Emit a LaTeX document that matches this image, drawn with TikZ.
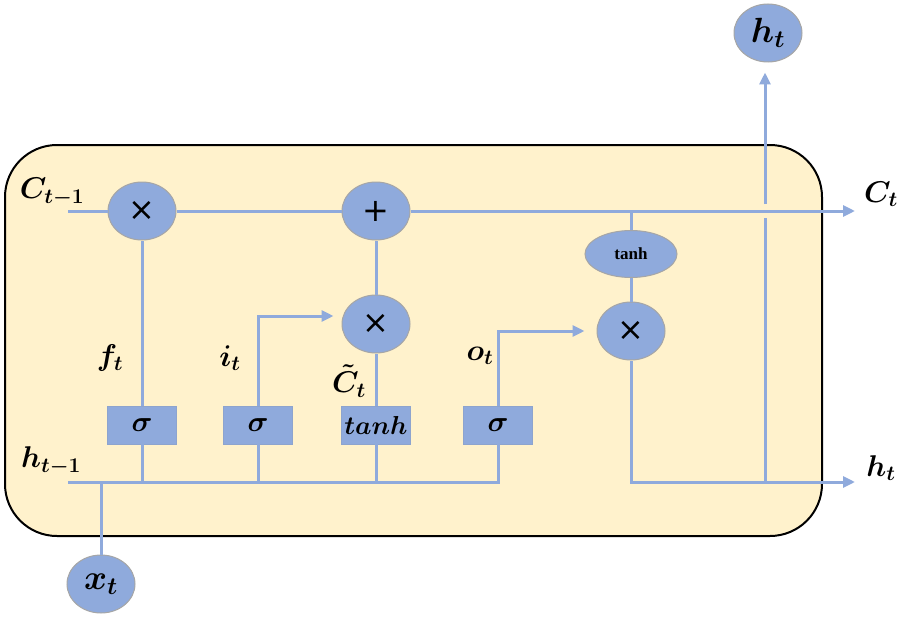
\documentclass[tikz,border=0pt]{standalone}
\usepackage{fontspec}
\usepackage{fix-cm}
\usetikzlibrary{shapes.geometric,arrows.meta}
\newfontfamily\opfont{DejaVu Sans}
\newfontfamily\tanhfont{Liberation Serif}
\definecolor{cellbg}{HTML}{FFF2CC}
\definecolor{nodeblue}{HTML}{8FAADC}
\definecolor{linblue}{HTML}{8FAADC}
\definecolor{rimgray}{HTML}{A6A6A6}
\begin{document}
\begin{tikzpicture}[x=1pt,y=-1pt,
  wire/.style={draw=linblue,line width=3pt},
  arr/.style={wire,-{Triangle[length=12pt,width=11pt]}},
  opnode/.style={ellipse,fill=nodeblue,draw=rimgray,line width=1pt,minimum width=68pt,minimum height=58pt,inner sep=0pt,font=\opfont\fontsize{32}{34}\selectfont},
  gate/.style={rectangle,fill=nodeblue,draw=nodeblue!85!gray,line width=0.8pt,minimum width=69pt,minimum height=38pt,inner sep=0pt,font=\fontsize{29}{31}\selectfont\boldmath},
  lbl/.style={inner sep=0pt,font=\fontsize{30}{32}\selectfont\boldmath}]
\useasboundingbox (0,0) rectangle (900,618);
% cell
\draw[fill=cellbg,draw=black,line width=2pt,rounded corners=52pt] (5,145) rectangle (822,536);

% coordinates
\coordinate (cin) at (68,211);
\coordinate (cout) at (855,211);
\coordinate (hin) at (68,482);
\coordinate (hout) at (855,482);
\coordinate (cjoint) at (631,211);
\coordinate (hjoint) at (765,482);
\coordinate (gaplo) at (765,218);
\coordinate (gaphi) at (765,204);

% nodes
\node[opnode] (mul1) at (142,211) {×};
\node[opnode] (plus) at (376,211) {+};
\node[opnode] (mul2) at (376,324) {×};
\node[opnode] (mul3) at (631,331) {×};
\node[opnode,minimum width=92pt,minimum height=47pt,font=\tanhfont\bfseries\fontsize{17}{19}\selectfont] (tanhe) at (631,254) {tanh};
\node[opnode,font=\fontsize{35}{37}\selectfont\boldmath] (ht) at (768,33) {$h_t$};
\node[opnode,font=\fontsize{35}{37}\selectfont\boldmath] (xt) at (101,584) {$x_t$};

\node[gate] (s1) at (142,425) {$\sigma$};
\node[gate] (s2) at (258,425) {$\sigma$};
\node[gate,font=\fontsize{26}{29}\selectfont\boldmath] (tb) at (376,425) {$tanh$};
\node[gate] (s4) at (498,425) {$\sigma$};

% wires
\draw[wire] (cin) -- (mul1) -- (plus);
\draw[arr] (plus) -- (cout);
\draw[wire] (s1) -- (mul1);
\draw[wire] (tb) -- (mul2) -- (plus);
\draw[wire] (cjoint) -- (tanhe) -- (mul3);
\draw[arr] (s2.north) |- ([xshift=-8pt,yshift=8pt]mul2.west);
\draw[arr] (s4.north) |- ([xshift=-12pt]mul3.west);
\draw[wire] (hin) -| (s4.south);
\draw[wire] (s1.south) -- (s1.south |- hin);
\draw[wire] (s2.south) -- (s2.south |- hin);
\draw[wire] (tb.south) -- (tb.south |- hin);
\draw[wire] (xt) -- (xt |- hin);
\draw[arr] (mul3) |- (hout);
\draw[wire] (hjoint) -- (gaplo);
\draw[arr,shorten >=10pt] (gaphi) -- ([xshift=-3pt]ht.south);

% labels
\node[lbl] (lc0) at (52,192) {$C_{t-1}$};
\node[lbl] (lc1) at (881,194) {$C_t$};
\node[lbl] (lh0) at (51,461) {$h_{t-1}$};
\node[lbl] (lh1) at (881,468) {$h_t$};
\node[lbl] (lf) at (110,358) {$f_t$};
\node[lbl] (li) at (230,358) {$i_t$};
\node[lbl] (lct) at (349,381) {$\tilde{C}_t$};
\node[lbl] (lo) at (480,356) {$o_t$};
\end{tikzpicture}
\end{document}
